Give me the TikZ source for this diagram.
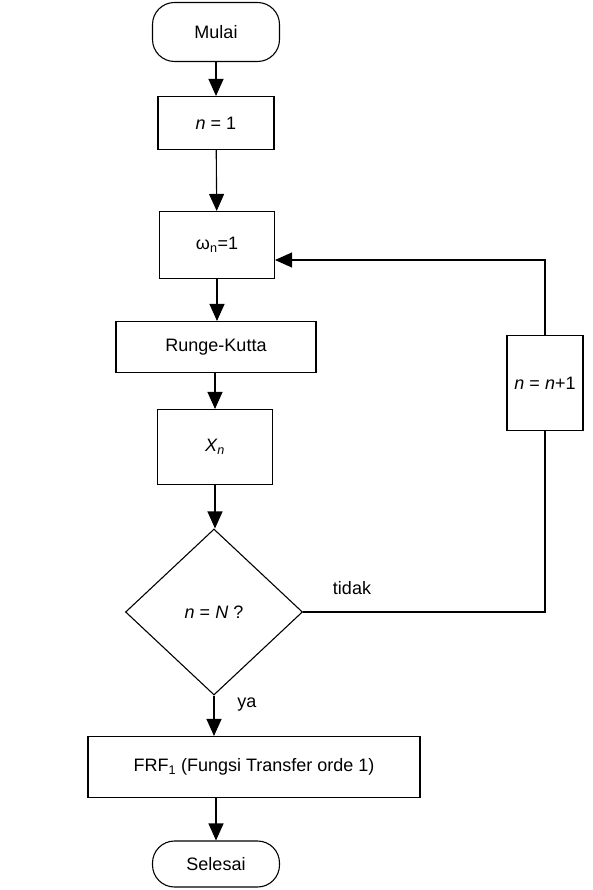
\documentclass[tikz,border=0pt]{standalone}
\usepackage{fontspec}
\setmainfont{Liberation Sans}
\usetikzlibrary{shapes.geometric,arrows.meta}
\begin{document}
\begin{tikzpicture}[x=1pt,y=-1pt,
  every node/.style={font=\fontsize{18}{21}\selectfont},
  term/.style={draw,line width=1.1pt,rounded corners=22pt,inner sep=0pt},
  proc/.style={draw,line width=1.1pt,inner sep=0pt},
  dec/.style={draw,diamond,line width=1.1pt,inner sep=0pt,minimum width=177pt,minimum height=166pt},
  flow/.style={line width=1.1pt,-{Triangle[length=17pt,width=15pt]}},
  line/.style={line width=1.1pt}]
\useasboundingbox (0,0) rectangle (593,890);
\node[term,minimum width=127pt,minimum height=59pt] (start) at (216,32) {Mulai};
\node[proc,minimum width=116pt,minimum height=53pt] (n1) at (216,123) {\textit{n} = 1};
\node[proc,minimum width=115pt,minimum height=67pt] (om) at (217,245) {ω\textsubscript{n}=1};
\node[proc,minimum width=200pt,minimum height=51pt] (rk) at (216,347) {Runge-Kutta};
\node[proc,minimum width=115pt,minimum height=75pt] (xn) at (215,447) {\textit{X\textsubscript{n}}};
\node[dec] (d) at (214,612) {\textit{n} = \textit{N} ?};
\node[proc,minimum width=332pt,minimum height=61pt] (frf) at (254,767) {FRF\textsubscript{1} (Fungsi Transfer orde 1)};
\node[term,minimum width=127pt,minimum height=46pt] (end) at (216,864) {Selesai};
\node[proc,minimum width=76pt,minimum height=95pt] (inc) at (545,383) {\textit{n} = \textit{n}+1};
\node (tidak) at (352,588) {tidak};
\node (ya) at (247,705) {ya};
\coordinate (c1) at (545,612);
\coordinate (c2) at (545,260);
\draw[flow] (start) -- (n1);
\draw[flow] (n1) -- (om);
\draw[flow] (om.south) -- (om.south |- rk.north);
\draw[flow] (rk.south -| xn.north) -- (xn.north);
\draw[flow] (xn.south) -- (xn.south |- d.north);
\draw[flow] (d.south) -- (d.south |- frf.north);
\draw[flow] (frf.south -| end.north) -- (end.north);
\draw[line] (d.east) -- (c1) -- (inc.south);
\draw[flow] (inc.north) -- (c2) -- (c2 -| om.east);
\end{tikzpicture}
\end{document}
